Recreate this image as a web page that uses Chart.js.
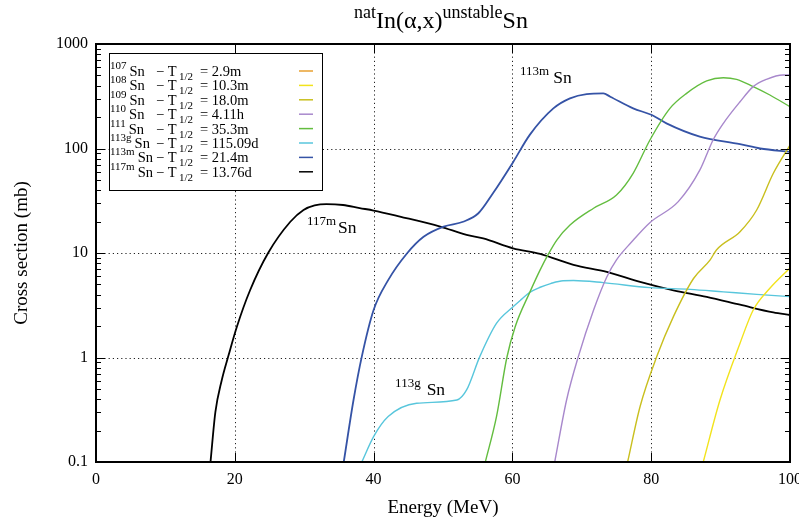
<!DOCTYPE html>
<html>
<head>
<meta charset="utf-8">
<script src="https://cdn.jsdelivr.net/npm/chart.js@4.4.0/dist/chart.umd.min.js"></script>
<style>
    html, body { margin: 0; padding: 0; background: #fff; }
    #wrap { width: 799px; height: 520px; }
</style>
</head>
<body>
<div id="wrap"><canvas id="xsChart" width="799" height="520"></canvas></div>
<script>
// isotopes in legend order
var isotopes = ['107', '108', '109', '110', '111', '113g', '113m', '117m'];
var halfLives = ['2.9m', '10.3m', '18.0m', '4.11h', '35.3m', '115.09d', '21.4m', '13.76d'];
var lineColors = ['#e8a030', '#f2e31c', '#c9bf1e', '#a888cc', '#63bd3f', '#58c6dc', '#3553a6', '#000000'];

// energies (MeV) and cross sections (mb)
var e107 = [];
var s107 = [];
var e108 = [87.5, 89.9, 92.8, 94.7, 97.1, 100];
var s108 = [0.1, 0.39, 1.37, 2.85, 4.6, 7.2];
var e109 = [76.6, 78.4, 80.8, 83.2, 86.1, 88.5, 89.4, 92.8, 95.2, 97.6, 100];
var s109 = [0.1, 0.34, 1.02, 2.46, 5.7, 8.6, 10.7, 16, 25.8, 57.9, 108];
var e110 = [66.1, 67.8, 69.5, 71.7, 73.6, 75.0, 77.2, 79.8, 83.9, 87.0, 88.9, 90.4, 92.8, 94.7, 96.6, 99.0, 100];
var s110 = [0.1, 0.39, 1.02, 2.85, 5.9, 8.6, 12.8, 19.5, 31, 62, 120, 174, 280, 391, 459, 505, 505];
var e111 = [56.1, 57.7, 59.2, 60.4, 62.5, 64.0, 65.2, 66.4, 68.3, 71.7, 75.0, 77.4, 79.8, 82.7, 85.1, 88.0, 90.4, 92.3, 94.7, 97.1, 100];
var s111 = [0.1, 0.27, 1.0, 1.97, 4.2, 6.9, 9.8, 13.3, 18.5, 26.8, 35.9, 57.9, 120, 242, 337, 443, 476, 459, 391, 325, 251];
var e113g = [38.3, 40.0, 42.1, 46.2, 52.0, 53.4, 55.3, 57.7, 60.1, 61.3, 62.5, 64.0, 65.5, 67.3, 68.8, 73.1, 79.8, 85.6, 90.4, 95.2, 100];
var s113g = [0.1, 0.175, 0.272, 0.365, 0.392, 0.489, 1.02, 2.12, 3.06, 3.6, 4.2, 4.7, 5.1, 5.43, 5.45, 5.2, 4.66, 4.49, 4.25, 4.02, 3.82];
var e113m = [35.7, 37.1, 38.3, 40.0, 42.1, 44.8, 47.2, 50.1, 52.9, 55.1, 57.2, 60.1, 62.5, 65.9, 68.3, 70.7, 73.1, 74.1, 77.4, 80.1, 82.2, 87.0, 92.8, 95.7, 100];
var s113m = [0.1, 0.39, 1.02, 2.85, 5.5, 9.9, 14.3, 17.9, 19.9, 24, 37.3, 74, 135, 242, 302, 332, 337, 313, 242, 209, 174, 130, 110, 100, 93];
var e117m = [16.5, 17.2, 18.1, 19.1, 20.3, 22.2, 24.8, 28.0, 29.9, 31.5, 33.2, 35.6, 38.0, 40.0, 43.8, 49.6, 53.4, 55.8, 60.1, 64.0, 68.8, 73.6, 78.4, 83.2, 88.0, 92.8, 97.6, 100];
var s117m = [0.1, 0.3, 0.6, 1.05, 1.97, 4.4, 10.0, 19.9, 25.8, 28.5, 29.4, 28.8, 26.9, 25.5, 22.3, 17.9, 14.9, 13.8, 11.1, 9.8, 7.7, 6.6, 5.3, 4.4, 3.8, 3.2, 2.7, 2.55];

var energies = [e107, e108, e109, e110, e111, e113g, e113m, e117m];
var sigmas = [s107, s108, s109, s110, s111, s113g, s113m, s117m];

// axis ticks
var xTicks = [0, 20, 40, 60, 80, 100];
var yTicks = [0.1, 1, 10, 100, 1000];

// curve labels: superscript, energy, cross section at label baseline
var curveLabels = [
    { sup: '113m', x: 61.1, y: 426, gap: 4 },
    { sup: '117m', x: 30.4, y: 15.4, gap: 2 },
    { sup: '113g', x: 43.1, y: 0.438, gap: 6 }
];

var serif = '"Liberation Serif", "Times New Roman", serif';

function richText(ctx, x, y, parts, align) {
    var widths = parts.map(function(p) {
        ctx.font = p[1] + 'px ' + serif;
        return ctx.measureText(p[0]).width;
    });
    var total = widths.reduce(function(a, b) { return a + b; }, 0);
    var cx = align === 'center' ? x - total / 2 : x;
    parts.forEach(function(p, i) {
        ctx.font = p[1] + 'px ' + serif;
        ctx.fillText(p[0], cx, y + p[2]);
        cx += widths[i];
    });
    return cx;
}

var decorPlugin = {
    id: 'decor',
    beforeDatasetsDraw: function(chart) {
        var ctx = chart.ctx, a = chart.chartArea;
        var xs = chart.scales.x, ys = chart.scales.y;
        ctx.save();
        ctx.strokeStyle = '#222';
        ctx.lineWidth = 1;
        ctx.setLineDash([1.2, 3]);
        xTicks.slice(1, -1).forEach(function(v) {
            var px = Math.round(xs.getPixelForValue(v)) + 0.5;
            ctx.beginPath(); ctx.moveTo(px, a.top); ctx.lineTo(px, a.bottom); ctx.stroke();
        });
        yTicks.slice(1, -1).forEach(function(v) {
            var py = Math.round(ys.getPixelForValue(v)) + 0.5;
            ctx.beginPath(); ctx.moveTo(a.left, py); ctx.lineTo(a.right, py); ctx.stroke();
        });
        ctx.restore();
    },
    afterDatasetsDraw: function(chart) {
        var ctx = chart.ctx, a = chart.chartArea;
        var xs = chart.scales.x, ys = chart.scales.y;
        ctx.save();
        ctx.setLineDash([]);
        ctx.strokeStyle = '#000';
        ctx.lineWidth = 1;

        // inward ticks
        ctx.beginPath();
        xTicks.forEach(function(v) {
            var px = Math.round(xs.getPixelForValue(v)) + 0.5;
            ctx.moveTo(px, a.bottom); ctx.lineTo(px, a.bottom - 9);
            ctx.moveTo(px, a.top); ctx.lineTo(px, a.top + 9);
        });
        for (var d = 0.1; d < 1000; d *= 10) {
            for (var m = 1; m < 10; m++) {
                var py = Math.round(ys.getPixelForValue(d * m)) + 0.5;
                var len = m === 1 ? 9 : 5;
                ctx.moveTo(a.left, py); ctx.lineTo(a.left + len, py);
                ctx.moveTo(a.right, py); ctx.lineTo(a.right - len, py);
            }
        }
        ctx.stroke();

        // frame
        ctx.lineWidth = 2;
        ctx.strokeRect(a.left, a.top, a.right - a.left, a.bottom - a.top);

        // x tick labels
        ctx.fillStyle = '#000';
        ctx.font = '16px ' + serif;
        ctx.textAlign = 'center';
        ctx.textBaseline = 'alphabetic';
        xTicks.forEach(function(v) {
            ctx.fillText(String(v), xs.getPixelForValue(v), 484);
        });

        // legend box
        var bx = 109, by = 53, bw = 213, bh = 137;
        ctx.fillStyle = '#fff';
        ctx.fillRect(bx, by, bw, bh);
        ctx.lineWidth = 1;
        ctx.strokeRect(bx + 0.5, by + 0.5, bw, bh);
        ctx.fillStyle = '#000';
        ctx.textAlign = 'left';
        isotopes.forEach(function(iso, i) {
            var base = 76 + i * 14.4;
            var end = richText(ctx, 110, base, [[iso, 11, -7]]);
            richText(ctx, end + 3, base, [['Sn', 14.5, 0]]);
            richText(ctx, 156, base, [['\u2212 T', 14.5, 0]]);
            richText(ctx, 179, base, [['1/2', 11, 4]]);
            richText(ctx, 200, base, [['= ' + halfLives[i], 14.5, 0]]);
            ctx.strokeStyle = lineColors[i];
            ctx.lineWidth = 1.5;
            ctx.beginPath(); ctx.moveTo(299, base - 5); ctx.lineTo(313, base - 5); ctx.stroke();
        });

        // curve labels
        ctx.fillStyle = '#000';
        curveLabels.forEach(function(lb) {
            var px = xs.getPixelForValue(lb.x), py = ys.getPixelForValue(lb.y);
            var end = richText(ctx, px, py, [[lb.sup, 13, -8]]);
            richText(ctx, end + lb.gap, py, [['Sn', 17.5, 0]]);
        });

        // title
        richText(ctx, 441, 28, [['nat', 18, -10], ['In(\u03b1,x)', 24, 0], ['unstable', 18, -10], ['Sn', 24, 0]], 'center');

        // axis titles
        ctx.font = '19px ' + serif;
        ctx.textAlign = 'center';
        ctx.fillText('Energy (MeV)', (a.left + a.right) / 2, 513);
        ctx.translate(27, (a.top + a.bottom) / 2);
        ctx.rotate(-Math.PI / 2);
        ctx.fillText('Cross section (mb)', 0, 0);
        ctx.restore();
    }
};

var datasets = isotopes.map(function(iso, i) {
    return {
        label: iso + 'Sn',
        data: energies[i].map(function(e, j) { return { x: e, y: sigmas[i][j] }; }),
        borderColor: lineColors[i],
        borderWidth: i === 7 || i === 6 ? 1.8 : 1.4,
        pointRadius: 0,
        cubicInterpolationMode: 'monotone',
        fill: false
    };
});

var ctx = document.getElementById('xsChart').getContext('2d');
var xsChart = new Chart(ctx, {
    type: 'line',
    data: { datasets: datasets },
    options: {
        responsive: false,
        animation: false,
        layout: { padding: { top: 44, right: 9, left: 0, bottom: 0 } },
        plugins: {
            legend: { display: false },
            title: { display: false },
            tooltip: { enabled: false }
        },
        scales: {
            x: {
                type: 'linear',
                min: 0,
                max: 100,
                grid: { display: false, drawTicks: false },
                border: { display: false },
                afterBuildTicks: function(scale) {
                    scale.ticks = xTicks.map(function(v) { return { value: v }; });
                },
                afterFit: function(scale) { scale.height = 58; },
                ticks: { display: false }
            },
            y: {
                type: 'logarithmic',
                min: 0.1,
                max: 1000,
                grid: { display: false, drawTicks: false },
                border: { display: false },
                afterBuildTicks: function(scale) {
                    scale.ticks = yTicks.map(function(v) { return { value: v }; });
                },
                afterFit: function(scale) { scale.width = 96; },
                ticks: {
                    padding: 8,
                    color: '#000',
                    font: { family: serif, size: 16 },
                    callback: function(value) { return String(value); }
                }
            }
        }
    },
    plugins: [decorPlugin]
});
</script>
</body>
</html>
